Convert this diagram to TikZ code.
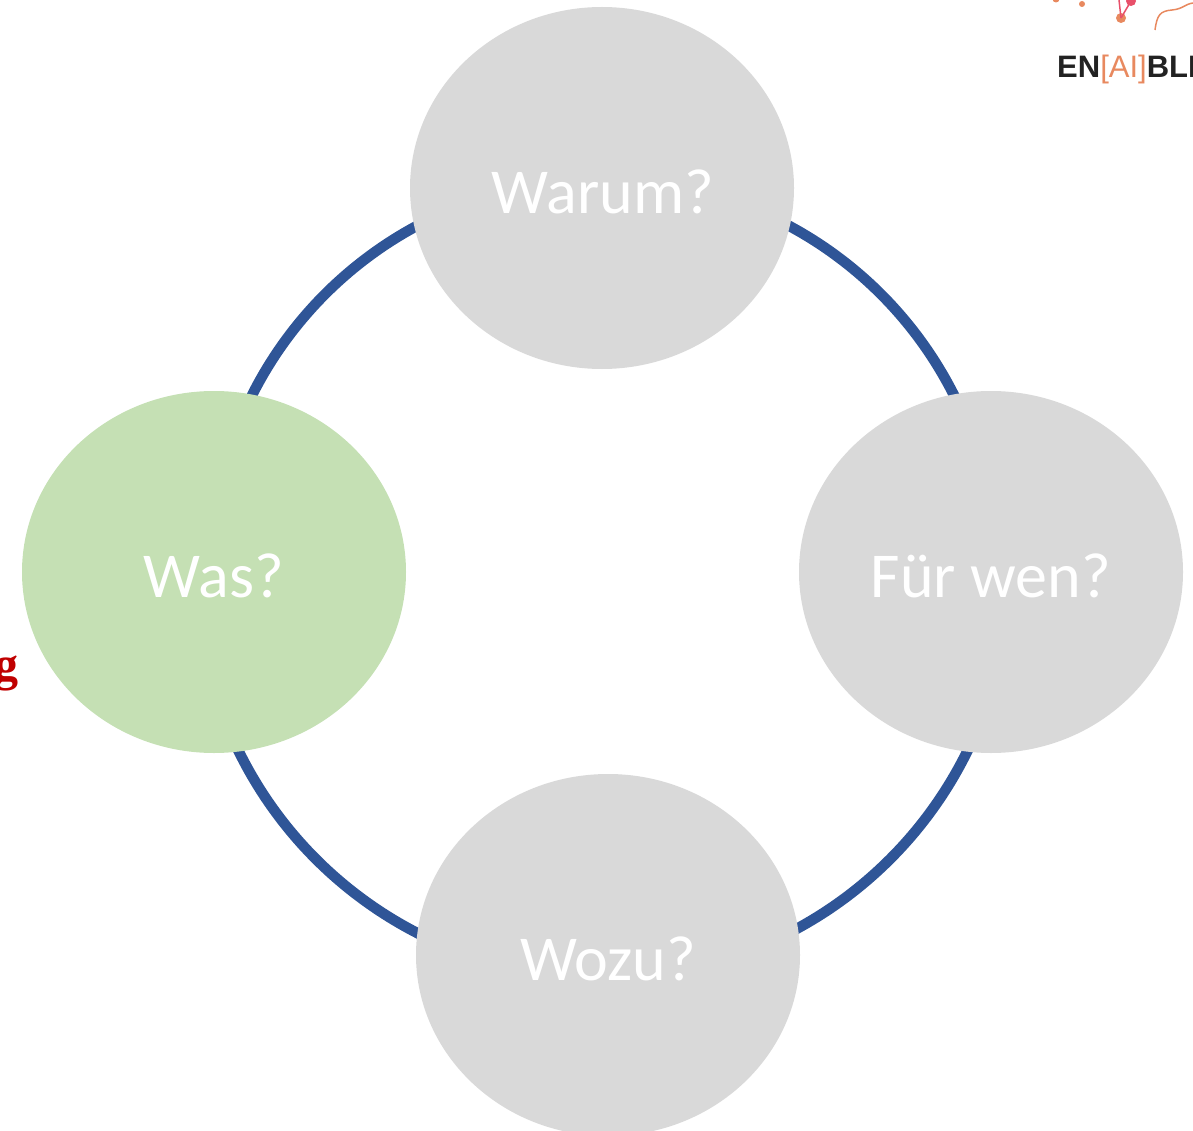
\documentclass[tikz,border=0pt]{standalone}
\usepackage{fontspec}
\setmainfont{Carlito}
\newfontfamily\redfont{Liberation Serif}
\newfontfamily\logofont{Liberation Sans}
\definecolor{ringblue}{HTML}{2F5597}
\definecolor{nodegrey}{HTML}{D9D9D9}
\definecolor{nodegreen}{HTML}{C5E0B4}
\definecolor{logodark}{HTML}{222222}
\definecolor{logoorange}{HTML}{E8895F}
\definecolor{logopink}{HTML}{E8506A}
\definecolor{redtext}{HTML}{C00000}
\usetikzlibrary{shapes.geometric}
\tikzset{
  qnode/.style={ellipse,minimum width=384pt,minimum height=362pt,inner sep=0pt},
  qtext/.style={text=white,inner sep=0pt,font=\fontsize{64}{64}\selectfont},
  ring/.style={draw=ringblue,line width=10.5pt},
}
\begin{document}
\begin{tikzpicture}[x=1pt,y=-1pt]
\useasboundingbox (0,0) rectangle (1193,1131);
\clip (0,0) rectangle (1193,1131);
\coordinate (ringC) at (603,572);
\coordinate (warumC) at (602,188);
\coordinate (furC) at (991,572);
\coordinate (wozuC) at (608,955);
\coordinate (wasC) at (214,572);
\draw[ring] (ringC) ++(-70:393) arc[start angle=-70,end angle=-20,radius=393];
\draw[ring] (ringC) ++(20:406) arc[start angle=20,end angle=70,radius=406];
\draw[ring] (ringC) ++(110:406) arc[start angle=110,end angle=160,radius=406];
\draw[ring] (ringC) ++(200:393) arc[start angle=200,end angle=250,radius=393];
\node[qnode,fill=nodegrey] (warum) at (warumC) {};
\node[qnode,fill=nodegrey] (fur) at (furC) {};
\node[qnode,fill=nodegrey] (wozu) at (wozuC) {};
\node[qnode,fill=nodegreen] (was) at (wasC) {};
\node[qtext] (warumT) at (603,192) {Warum?};
\node[qtext] (furT) at (991,576) {Für wen?};
\node[qtext] (wozuT) at (608,959) {Wozu?};
\node[qtext] (wasT) at (214,576) {Was?};
\node[anchor=base east,inner sep=0pt,text=redtext,font=\fontsize{48}{48}\selectfont\redfont\bfseries] (redg) at (19,680) {g};
% logo
\node[anchor=base west,inner sep=0pt,font=\fontsize{31}{31}\selectfont\logofont,text=logodark] (logo) at (1057,78) {\bfseries EN\textcolor{logoorange}{\mdseries[AI]}BLE};
\fill[logoorange] (1121,18) circle (5);
\fill[logoorange] (1082,4) circle (3);
\fill[logoorange] (1056,-1) circle (3.5);
\fill[logopink] (1131,1) circle (5);
\draw[logopink,line width=1.5pt] (1121,18) -- (1119,0);
\draw[logopink,line width=1.5pt] (1121,18) -- (1131,1);
\draw[logoorange,line width=1.5pt] (1155,30) .. controls (1157,15) and (1160,11) .. (1172,10) .. controls (1183,9) and (1185,4) .. (1193,3);
\end{tikzpicture}
\end{document}
